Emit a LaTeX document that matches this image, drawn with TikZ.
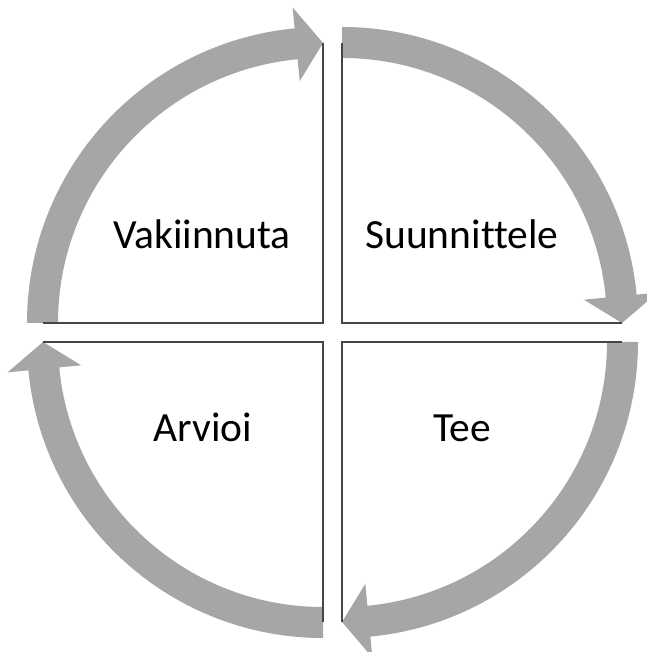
\documentclass[tikz,border=0pt]{standalone}
\usepackage{fontspec}
\setmainfont{Carlito}[Ligatures=NoCommon]
\definecolor{bandgray}{RGB}{166,166,166}
\definecolor{edgegray}{RGB}{70,70,70}
\tikzset{
  band/.style={fill=bandgray, draw=none},
  edge/.style={draw=edgegray, line width=1.6pt, line cap=butt, line join=miter},
  label/.style={font=\fontsize{41.5}{48}\selectfont, text=black, anchor=base, inner sep=0pt}
}
% #1 center, #2 start angle
\newcommand{\cyclearrow}[2]{%
  \pgfmathsetmacro{\tipang}{#2-90}%
  \pgfmathsetmacro{\baseang}{#2-90+5.5}%
  \fill[band, shift={#1}]
    (#2:296pt) arc[start angle=#2, end angle=\baseang, radius=296pt]
    -- (\baseang:317pt) -- (\tipang:280pt) -- (\baseang:243pt)
    -- (\baseang:265pt) arc[start angle=\baseang, end angle=#2, radius=265pt]
    -- cycle;
}
\begin{document}
\begin{tikzpicture}[x=1pt,y=1pt]
\useasboundingbox (0,0) rectangle (646,652);
% quadrant corners
\coordinate (ctl) at (323,329);
\coordinate (ctr) at (342,329);
\coordinate (cbl) at (323,310);
\coordinate (cbr) at (342,310);
% arrows
\cyclearrow{(323pt,329pt)}{180}
\cyclearrow{(342pt,329pt)}{90}
\cyclearrow{(342pt,310pt)}{0}
\cyclearrow{(323pt,310pt)}{-90}
% edge end points
\coordinate (tlU) at (323,609);
\coordinate (tlL) at (43,329);
\coordinate (trU) at (342,609);
\coordinate (trR) at (622,329);
\coordinate (blD) at (323,30);
\coordinate (blL) at (43,310);
\coordinate (brD) at (342,30);
\coordinate (brR) at (622,310);
\draw[edge] (tlU) -- (ctl) -- (tlL);
\draw[edge] (trU) -- (ctr) -- (trR);
\draw[edge] (blD) -- (cbl) -- (blL);
\draw[edge] (brD) -- (cbr) -- (brR);
% labels
\node[label] (vak) at (202,403) {Vakiinnuta};
\node[label] (suu) at (462,403) {Suunnittele};
\node[label] (arv) at (203,210) {Arvioi};
\node[label] (tee) at (462,210) {Tee};
\end{tikzpicture}
\end{document}
